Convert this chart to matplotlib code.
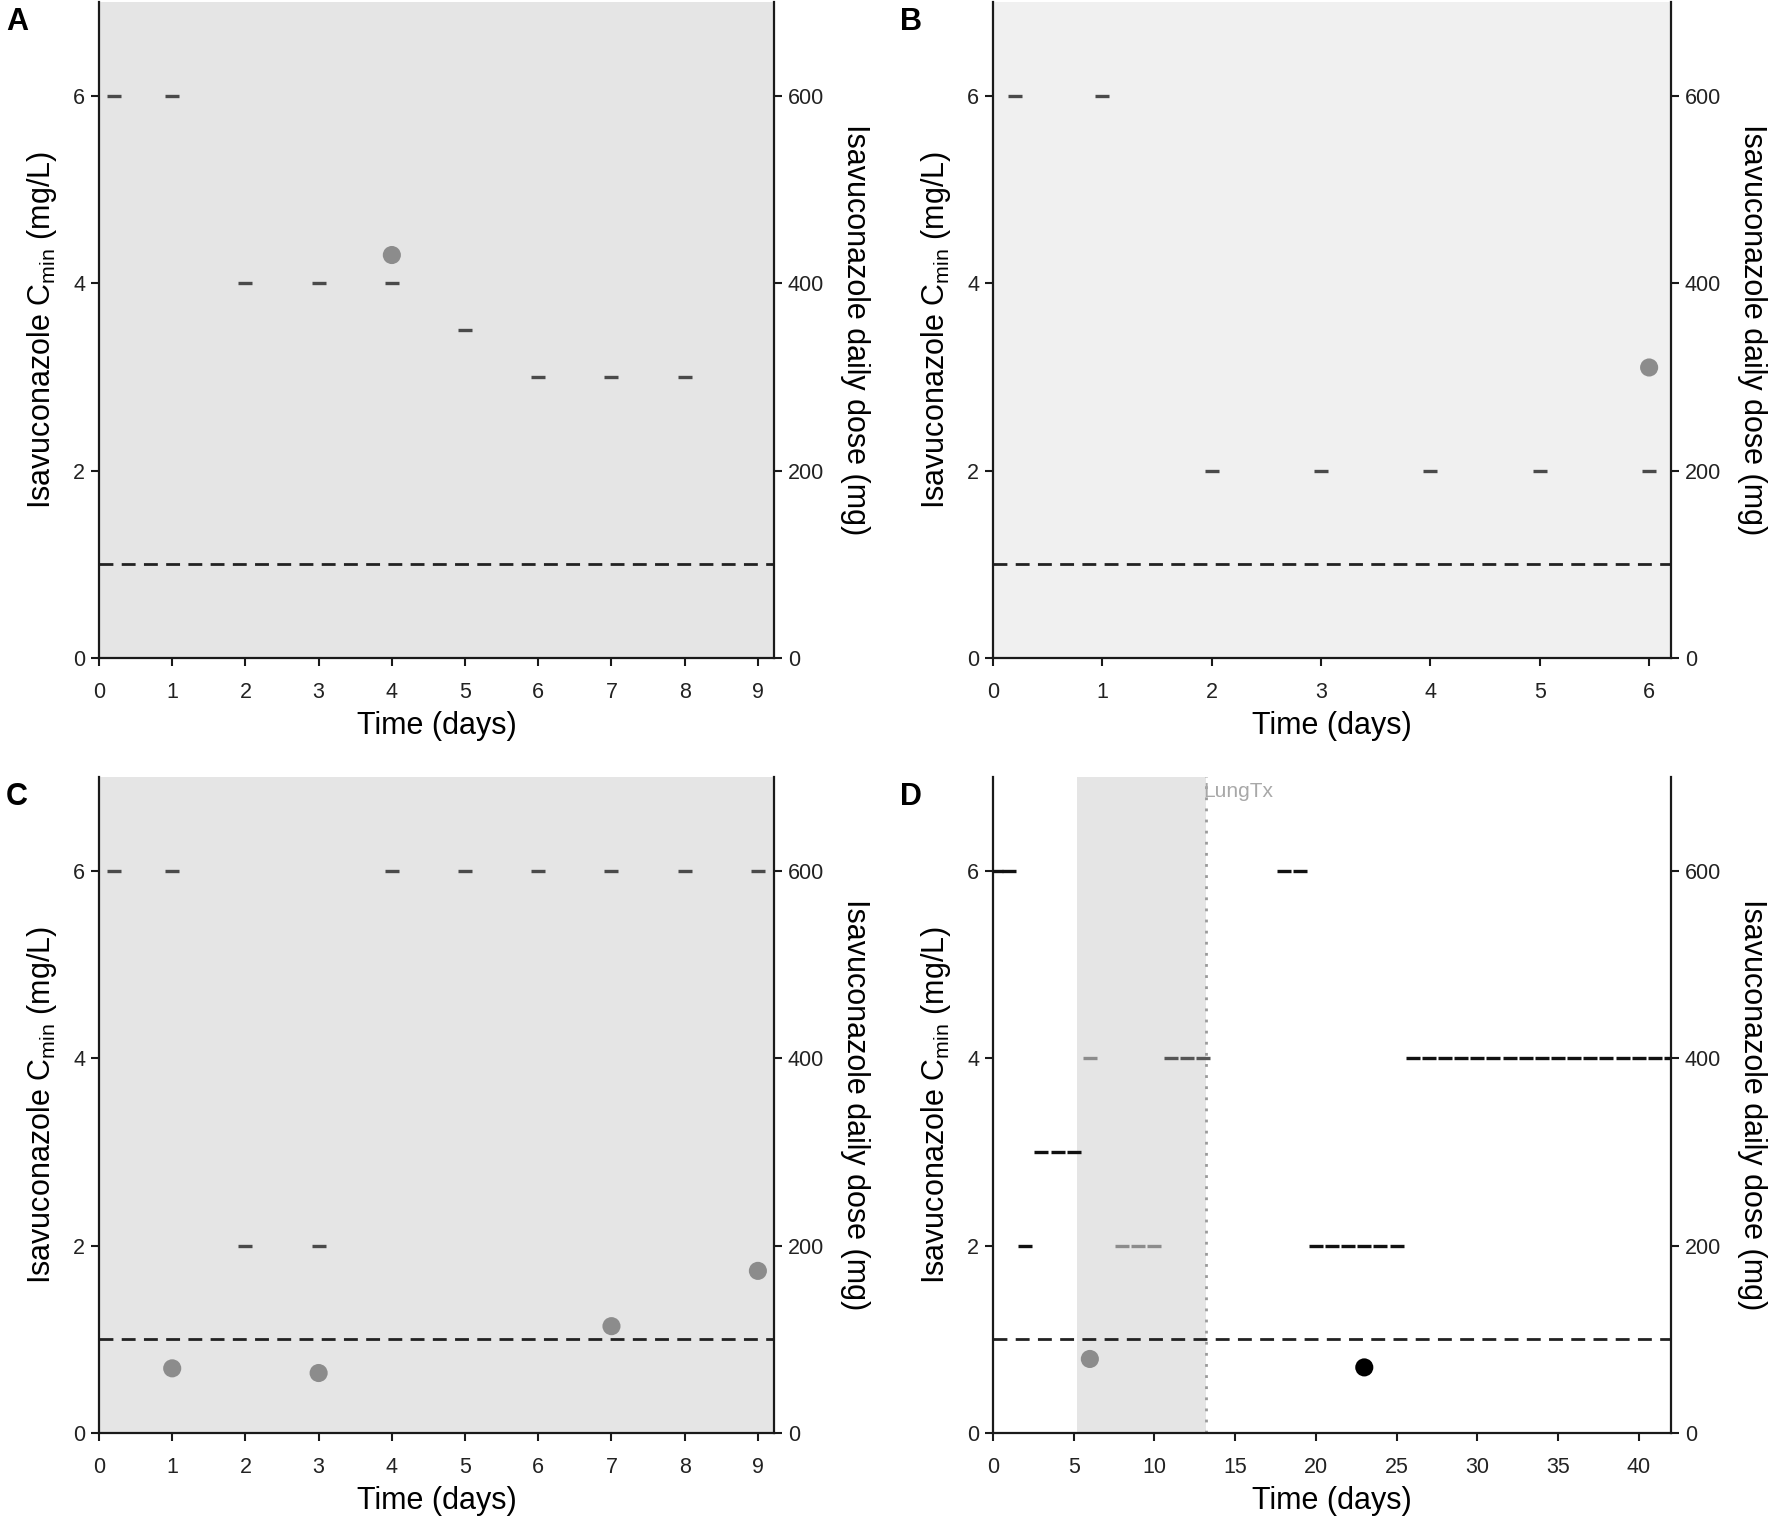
import numpy as np
import matplotlib
matplotlib.use("Agg")
import matplotlib.pyplot as plt

plt.rcParams['font.family'] = ['Liberation Sans', 'DejaVu Sans']

# panel A
dose_a_days = [0.2, 1, 2, 3, 4, 5, 6, 7, 8]
dose_a_mg = [600, 600, 400, 400, 400, 350, 300, 300, 300]
cmin_a_days = [4]
cmin_a = [4.3]

# panel B
dose_b_days = [0.2, 1, 2, 3, 4, 5, 6]
dose_b_mg = [600, 600, 200, 200, 200, 200, 200]
cmin_b_days = [6]
cmin_b = [3.1]

# panel C
dose_c_days = [0.2, 1, 2, 3, 4, 5, 6, 7, 8, 9]
dose_c_mg = [600, 600, 200, 200, 600, 600, 600, 600, 600, 600]
cmin_c_days = [1, 3, 7, 9]
cmin_c = [0.69, 0.64, 1.14, 1.73]

# panel D
dose_d_days = [0.2, 1, 2, 3, 4, 5, 6, 8, 9, 10, 11, 12, 13, 18, 19,
               20, 21, 22, 23, 24, 25,
               26, 27, 28, 29, 30, 31, 32, 33, 34, 35, 36, 37, 38, 39, 40, 41, 42]
dose_d_mg = [600, 600, 200, 300, 300, 300, 400, 200, 200, 200, 400, 400, 400, 600, 600,
             200, 200, 200, 200, 200, 200,
             400, 400, 400, 400, 400, 400, 400, 400, 400, 400, 400, 400, 400, 400, 400, 400, 400]
cmin_d_days = [6, 23]
cmin_d = [0.79, 0.70]
icu_start = 5.2
lungtx_day = 13.2

target = 1.0

W, H = 1770, 1522
fig = plt.figure(figsize=(W / 100, H / 100), dpi=100)

TICK_FS = 15.5
LAB_FS = 22


def panel(rect, letter, xmax, xticks, bg, dose_days, dose_mg, c_days, c_vals,
          dose_cols, pt_cols, shade=None):
    l, t, r, b = rect
    ax = fig.add_axes([l / W, 1 - b / H, (r - l) / W, (b - t) / H])
    ax.set_facecolor(bg)
    if shade is not None:
        ax.axvspan(shade[0], shade[1], color='#e5e5e5', lw=0, zorder=0)
        ax.axvline(shade[1], color='#9a9a9a', lw=2, ls=(0, (1, 3)), zorder=1)
        ax.text(shade[1] - 0.2, 6.95, 'LungTx', color='#a8a8a8', fontsize=15,
                ha='left', va='top')
    ax.axhline(target, color='#222222', lw=2, ls=(0, (5, 3)), zorder=2)
    ax.scatter(c_days, c_vals, s=170, c=pt_cols, edgecolors='none', zorder=3)
    ax.set_xlim(0, xmax)
    ax.set_ylim(0, 7)
    ax.set_xticks(xticks)
    ax.set_yticks([0, 2, 4, 6])
    for s in ['top', 'right']:
        ax.spines[s].set_visible(False)
    for s in ['left', 'bottom']:
        ax.spines[s].set_linewidth(1.6)
        ax.spines[s].set_color('#1a1a1a')
    ax.tick_params(length=6, width=1.5, labelsize=TICK_FS, pad=4,
                   color='#1a1a1a', labelcolor='#222222')
    ax.tick_params(axis='x', pad=11)
    ax.set_ylabel(r'Isavuconazole C$_{\mathregular{min}}$ (mg/L)', fontsize=LAB_FS)
    ax.yaxis.set_label_coords(-0.059, 0.5)
    ax.set_xlabel('Time (days)', fontsize=LAB_FS)
    ax.xaxis.set_label_coords(0.5, -0.081)

    ax2 = ax.twinx()
    for d, m, c in zip(dose_days, dose_mg, dose_cols):
        ax2.plot(d, m, marker='_', ms=10, mew=2.4, color=c, ls='none')
    ax2.set_ylim(0, 700)
    ax2.set_yticks([0, 200, 400, 600])
    for s in ['top', 'left', 'bottom']:
        ax2.spines[s].set_visible(False)
    ax2.spines['right'].set_linewidth(1.6)
    ax2.spines['right'].set_color('#1a1a1a')
    ax2.tick_params(length=6, width=1.5, labelsize=TICK_FS, pad=4,
                    color='#1a1a1a', labelcolor='#222222')
    ax2.set_ylabel('Isavuconazole daily dose (mg)', fontsize=LAB_FS, rotation=270,
                   va='center')
    ax2.yaxis.set_label_coords(1.12, 0.5)

    fig.text((l - 93) / W, 1 - 5 / H - t / H, letter, fontsize=22,
             fontweight='bold', ha='left', va='top')
    return ax


dark = '#4a4a4a'
grey = '#8c8c8c'

panel((99, 2, 774, 658), 'A', 9.22, range(0, 10), '#e5e5e5',
      dose_a_days, dose_a_mg, cmin_a_days, cmin_a,
      [dark] * len(dose_a_days), [grey] * len(cmin_a))
panel((993, 2, 1671, 658), 'B', 6.2, range(0, 7), '#f0f0f0',
      dose_b_days, dose_b_mg, cmin_b_days, cmin_b,
      [dark] * len(dose_b_days), [grey] * len(cmin_b))
panel((99, 777, 774, 1433), 'C', 9.22, range(0, 10), '#e5e5e5',
      dose_c_days, dose_c_mg, cmin_c_days, cmin_c,
      [dark] * len(dose_c_days), [grey] * len(cmin_c))

d_cols = []
for d in dose_d_days:
    if icu_start <= d < 10.5:
        d_cols.append(grey)
    elif icu_start <= d <= lungtx_day:
        d_cols.append('#555555')
    else:
        d_cols.append('#111111')
p_cols = [grey if icu_start <= d <= lungtx_day else '#000000' for d in cmin_d_days]
panel((993, 777, 1671, 1433), 'D', 42, range(0, 41, 5), 'white',
      dose_d_days, dose_d_mg, cmin_d_days, cmin_d, d_cols, p_cols,
      shade=(icu_start, lungtx_day))

fig.savefig('out.png', dpi=100)
